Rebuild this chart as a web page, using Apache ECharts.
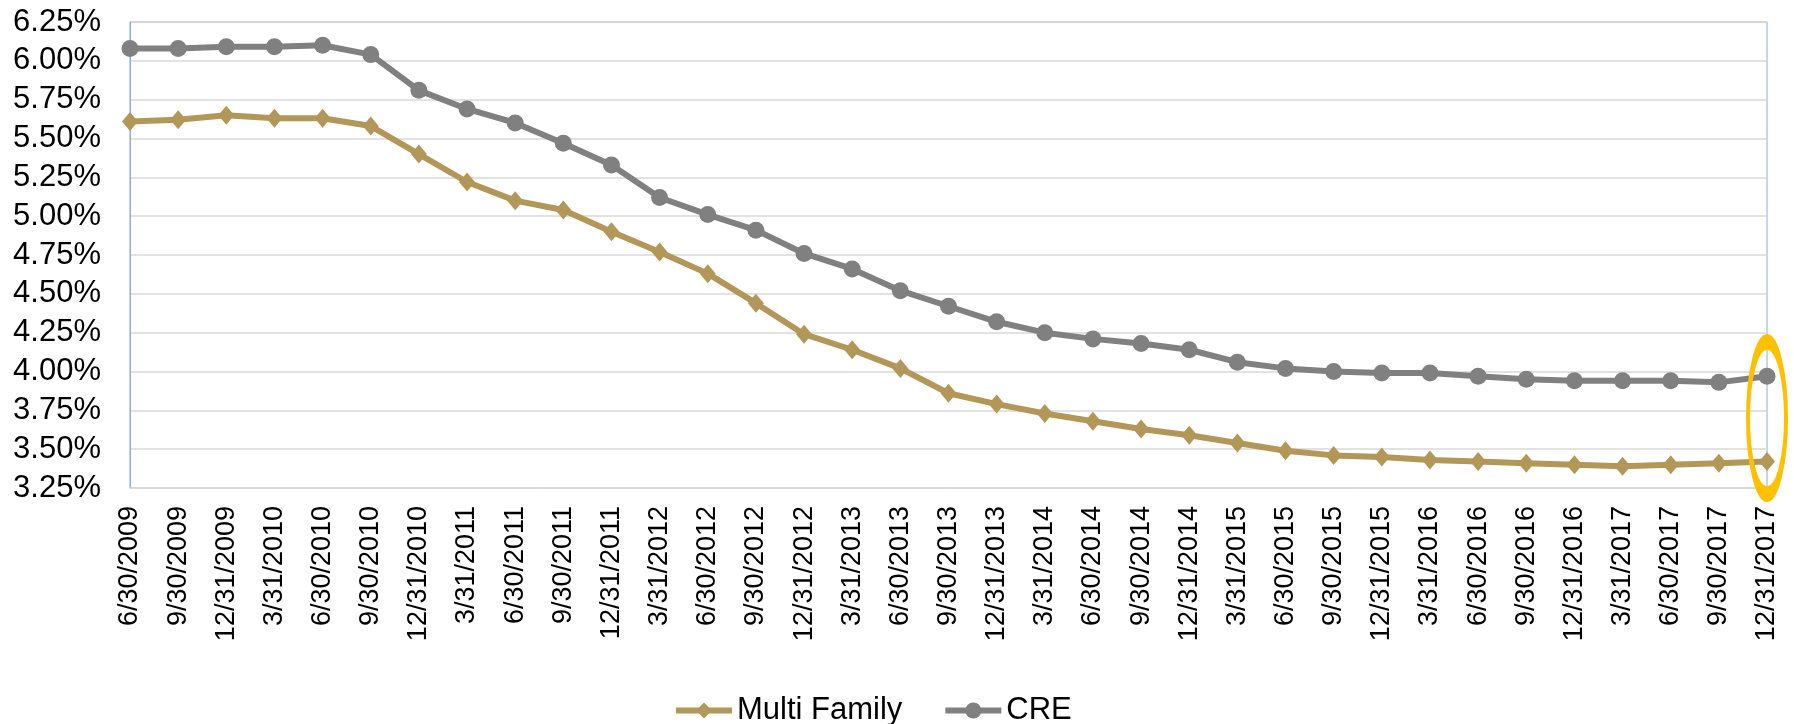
<!DOCTYPE html>
<html>
<head>
<meta charset="utf-8">
<script src="https://cdn.jsdelivr.net/npm/echarts@6/dist/echarts.min.js"></script>
<style>
html,body{margin:0;padding:0;background:#fff;}
#chart{width:1794px;height:724px;}
</style>
</head>
<body>
<div id="chart"></div>
<script>
var categories = [
  '6/30/2009','9/30/2009','12/31/2009',
  '3/31/2010','6/30/2010','9/30/2010','12/31/2010',
  '3/31/2011','6/30/2011','9/30/2011','12/31/2011',
  '3/31/2012','6/30/2012','9/30/2012','12/31/2012',
  '3/31/2013','6/30/2013','9/30/2013','12/31/2013',
  '3/31/2014','6/30/2014','9/30/2014','12/31/2014',
  '3/31/2015','6/30/2015','9/30/2015','12/31/2015',
  '3/31/2016','6/30/2016','9/30/2016','12/31/2016',
  '3/31/2017','6/30/2017','9/30/2017','12/31/2017'
];
var multiFamily = [5.61,5.62,5.65,5.63,5.63,5.58,5.40,5.22,5.10,5.04,4.90,4.77,4.63,4.44,4.24,4.14,4.02,3.86,3.79,3.73,3.68,3.63,3.59,3.54,3.49,3.46,3.45,3.43,3.42,3.41,3.40,3.39,3.40,3.41,3.42];
var cre = [6.08,6.08,6.09,6.09,6.10,6.04,5.81,5.69,5.60,5.47,5.33,5.12,5.01,4.91,4.76,4.66,4.52,4.42,4.32,4.25,4.21,4.18,4.14,4.06,4.02,4.00,3.99,3.99,3.97,3.95,3.94,3.94,3.94,3.93,3.97];
var seriesNames = ['Multi Family','CRE'];
var yMin = 3.25, yMax = 6.25, yStep = 0.25;
// highlight ellipse around the latest quarter (centre value on the y scale)
var highlightCategory = '12/31/2017';
var highlightCenter = 3.70;

var FONT = '"Liberation Sans", Arial, sans-serif';
var ellipsePath = 'path://M0,-1 C0.5523,-1 1,-0.5523 1,0 C1,0.5523 0.5523,1 0,1 C-0.5523,1 -1,0.5523 -1,0 C-1,-0.5523 -0.5523,-1 0,-1 Z';

var chart = echarts.init(document.getElementById('chart'));
chart.setOption({
  animation: false,
  backgroundColor: '#ffffff',
  textStyle: { fontFamily: FONT },
  grid: {
    left: 130, right: 27, top: 22, bottom: 236,
    show: true, borderColor: '#8FAADC', borderWidth: 1,
    containLabel: false
  },
  legend: {
    left: 668, top: 690,
    itemWidth: 56, itemHeight: 20, itemGap: 40,
    lineStyle: { width: 6 },
    textStyle: { fontSize: 31, color: '#000', fontFamily: FONT },
    data: seriesNames
  },
  xAxis: {
    type: 'category',
    data: categories,
    boundaryGap: false,
    axisLine: { show: true, lineStyle: { color: '#D9D9D9', width: 1.5 } },
    axisTick: { show: false },
    axisLabel: {
      rotate: 90, margin: 18, interval: 0,
      fontSize: 27, color: '#000', fontFamily: FONT
    },
    splitLine: { show: false }
  },
  yAxis: {
    type: 'value',
    min: yMin, max: yMax, interval: yStep,
    axisLine: { show: true, lineStyle: { color: '#8FAADC', width: 1 } },
    axisTick: { show: false },
    axisLabel: {
      margin: 29, fontSize: 31, color: '#000', fontFamily: FONT,
      formatter: function (v) { return v.toFixed(2) + '%'; }
    },
    splitLine: { show: true, lineStyle: { color: '#D9D9D9', width: 1.5 } }
  },
  series: [
    {
      name: seriesNames[0],
      type: 'line',
      data: multiFamily,
      symbol: 'diamond',
      symbolSize: [16, 19],
      itemStyle: { color: '#B39758' },
      lineStyle: { color: '#B39758', width: 6 },
      emphasis: { disabled: true },
      z: 3,
      markPoint: {
        silent: true,
        symbol: ellipsePath,
        symbolSize: [38, 152],
        symbolKeepAspect: false,
        label: { show: false },
        itemStyle: { color: 'rgba(0,0,0,0)', borderColor: '#FFC000', borderWidth: 8 },
        data: [{ coord: [highlightCategory, highlightCenter] }],
        z: 10
      }
    },
    {
      name: seriesNames[1],
      type: 'line',
      data: cre,
      symbol: 'circle',
      symbolSize: 17,
      itemStyle: { color: '#808080' },
      lineStyle: { color: '#808080', width: 6 },
      emphasis: { disabled: true },
      z: 2
    }
  ]
});
</script>
</body>
</html>
